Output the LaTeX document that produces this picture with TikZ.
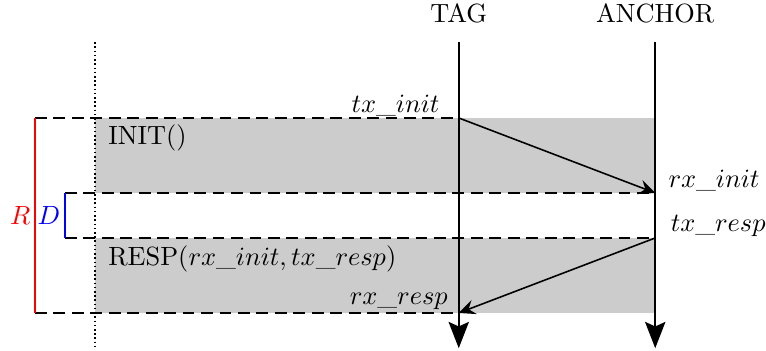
\documentclass[tikz,border=0pt]{standalone}
\usepackage{tikz}
\usetikzlibrary{arrows.meta, positioning}

\begin{document}
\begin{tikzpicture}[
    lifeline/.style={-{Stealth[length=3.5mm, width=2.7mm, inset=0.6mm]}, thick},
    msg/.style={-{Stealth[length=2.2mm, width=2mm, inset=0.8mm]}, semithick},
    level/.style={semithick, dash pattern=on 4.5pt off 2.5pt},
    slot/.style={fill=black!20},
    stamp/.style={inner sep=0pt}
]
    \useasboundingbox (-1.267, -0.507) rectangle (8.947, 4.173);

    % Points on the two lifelines
    \coordinate (tagtop) at (4.85, 3.61);
    \coordinate (tagbot) at (4.85, -0.47);
    \coordinate (anctop) at (7.47, 3.61);
    \coordinate (ancbot) at (7.47, -0.47);
    \coordinate (txinit) at (4.85, 2.6);
    \coordinate (rxinit) at (7.47, 1.6);
    \coordinate (txresp) at (7.47, 1.0);
    \coordinate (rxresp) at (4.85, 0);
    % Bracket corners
    \coordinate (rtop) at (-0.8, 2.6);
    \coordinate (rbot) at (-0.8, 0);
    \coordinate (dtop) at (-0.4, 1.6);
    \coordinate (dbot) at (-0.4, 1.0);
    \coordinate (clktop) at (0, 3.61);
    \coordinate (clkbot) at (0, -0.47);

    % Busy slots
    \fill[slot] (0, 2.6) rectangle (rxinit);
    \fill[slot] (0, 1.0) rectangle (7.47, 0);

    % Local clock
    \draw[semithick, densely dotted] (clktop) -- (clkbot);

    % Timestamp levels
    \draw[level] (rtop) -- (txinit);
    \draw[level] (dtop) -- (rxinit);
    \draw[level] (dbot) -- (txresp);
    \draw[level] (rbot) -- (rxresp);

    % Round trip and reply delay
    \draw[red, semithick] (rtop) -- node[left, inner sep=1.5pt] (R) {$R$} (rbot);
    \draw[blue, semithick] (dtop) -- node[left, inner sep=1.5pt] (D) {$D$} (dbot);

    % Lifelines
    \draw[lifeline] (tagtop) -- (tagbot);
    \draw[lifeline] (anctop) -- (ancbot);
    \node[above=1.3mm of tagtop] (tag) {TAG};
    \node[above=1.3mm of anctop] (anc) {ANCHOR};

    % Messages
    \draw[msg] (txinit) -- (rxinit);
    \draw[msg] (txresp) -- (rxresp);

    % Labels
    \node[stamp, anchor=base east] (ltxinit) at (4.6, 2.67) {$tx\_init$};
    \node[stamp, anchor=base west] (lrxinit) at (7.64, 1.67) {$rx\_init$};
    \node[stamp, anchor=base west] (ltxresp) at (7.67, 1.08) {$tx\_resp$};
    \node[stamp, anchor=base east] (lrxresp) at (4.71, 0.11) {$rx\_resp$};
    \node[stamp, anchor=base west] (init) at (0.17, 2.24) {INIT()};
    \node[stamp, anchor=base west] (resp) at (0.17, 0.63) {RESP($rx\_init, tx\_resp$)};
\end{tikzpicture}
\end{document}
